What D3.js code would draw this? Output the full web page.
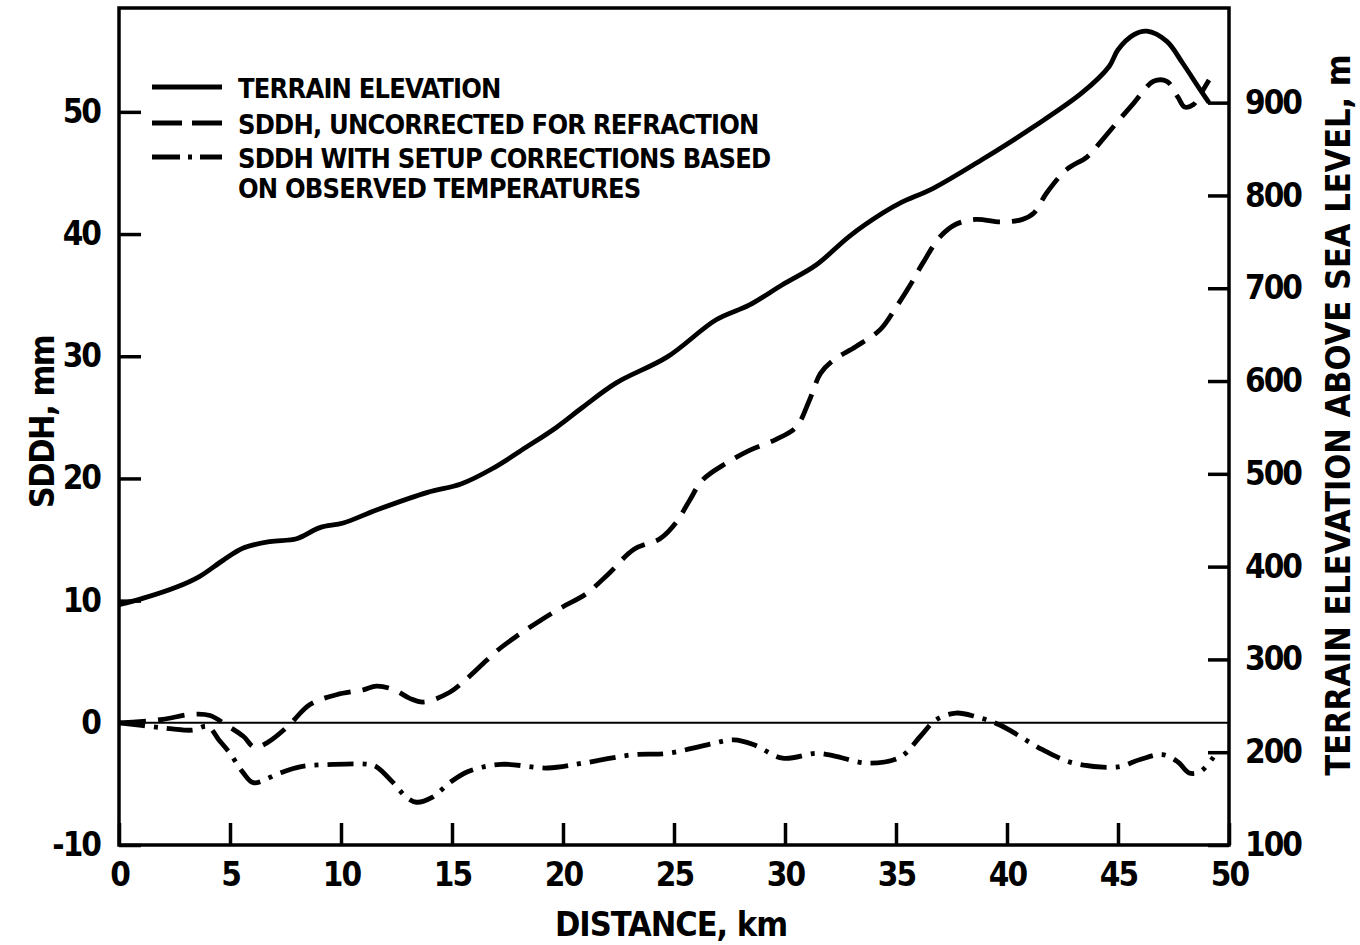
<!DOCTYPE html>
<html>
<head>
  <meta charset="utf-8">
  <script src="https://d3js.org/d3.v7.min.js"></script>
  <style>
    body { margin: 0; background: #fff; }
    .lbl {
      font-family: "Liberation Sans Narrow", "Arial Narrow", "DejaVu Sans Condensed", sans-serif;
      font-weight: bold;
      fill: #000;
    }
    .tick text {
      font-family: "Liberation Sans Narrow", "Arial Narrow", "DejaVu Sans Condensed", sans-serif;
      font-weight: bold; font-size: 33px; letter-spacing: -2px; fill: #000;
    }
    .tick line { stroke: #000; stroke-width: 3.5; }
    .domain { display: none; }
  </style>
</head>
<body>
<script>

// ---- data ----
// terrain elevation, m (right axis)
var terrainKm = [0, 1.1, 2.6, 3.6, 4.7, 5.6, 6.8, 8.0, 9.05, 10.1, 11.6, 13.9, 15.4, 16.85, 18.3, 19.7, 20.9, 22.4, 24.7, 26.9, 28.4, 29.9, 31.4, 32.9, 34.4, 35.2, 36.7, 38.9, 41.2, 43.4, 44.6, 45.0, 45.7, 46.3, 47.2, 47.9, 48.7, 49.1];
var terrainM = [359, 366, 378, 389, 407, 420, 427, 430, 442, 447, 461, 480, 489, 506, 528, 550, 572, 598, 626, 666, 682, 704, 725, 756, 781, 792, 808, 839, 874, 911, 939, 957, 973, 977, 966, 943, 914, 900];

// SDDH uncorrected for refraction, mm
var rawKm = [0, 1.85, 3.3, 4.1, 4.85, 5.6, 6.1, 6.7, 7.6, 8.6, 9.8, 11.0, 11.6, 12.4, 13.1, 13.7, 14.9, 15.6, 17.1, 18.0, 19.0, 20.0, 21.0, 22.0, 23.2, 24.4, 25.1, 25.7, 26.3, 27.4, 28.4, 29.6, 30.5, 31.1, 31.6, 32.2, 33.2, 34.3, 35.0, 35.6, 36.2, 37.0, 37.7, 38.6, 39.7, 40.7, 41.2, 41.8, 42.7, 43.6, 44.2, 44.8, 45.7, 46.6, 47.2, 47.7, 48.0, 48.4, 48.7, 49.1];
var rawMm = [0, 0.25, 0.7, 0.6, -0.2, -1.1, -2.0, -1.6, -0.3, 1.5, 2.3, 2.7, 3.0, 2.7, 2.0, 1.7, 2.5, 3.5, 6.0, 7.2, 8.4, 9.5, 10.5, 12.1, 14.2, 15.1, 16.4, 18.2, 19.9, 21.3, 22.3, 23.2, 24.2, 26.4, 28.6, 29.7, 30.8, 32.2, 34.0, 35.7, 37.6, 39.8, 40.8, 41.2, 41.0, 41.2, 41.7, 43.4, 45.3, 46.3, 47.5, 48.8, 50.7, 52.5, 52.5, 51.2, 50.4, 50.6, 51.4, 52.6];

// SDDH with setup corrections from observed temperatures, mm
var corrKm = [0, 1.9, 2.4, 3.3, 4.0, 4.5, 5.0, 5.6, 6.05, 7.25, 8.15, 9.65, 11.2, 11.6, 12.35, 12.95, 13.4, 14.1, 14.9, 15.7, 17.2, 19.3, 20.9, 23.2, 24.7, 26.5, 27.7, 28.6, 29.9, 31.4, 32.2, 33.7, 35.2, 36.1, 36.8, 37.7, 38.6, 39.7, 41.6, 43.0, 45.0, 46.0, 47.0, 47.7, 48.2, 48.7, 49.3];
var corrMm = [0, -0.4, -0.5, -0.6, -0.3, -1.4, -2.5, -4.1, -4.9, -4.1, -3.6, -3.4, -3.4, -3.6, -4.9, -6.1, -6.5, -6.1, -4.9, -4.0, -3.4, -3.7, -3.3, -2.6, -2.5, -1.8, -1.4, -1.8, -2.9, -2.5, -2.7, -3.3, -2.8, -1.1, 0.25, 0.8, 0.5, -0.2, -2.2, -3.3, -3.6, -3.0, -2.6, -3.2, -4.1, -4.0, -2.8];

var xTicks = [0, 5, 10, 15, 20, 25, 30, 35, 40, 45, 50];
var leftTicks = [-10, 0, 10, 20, 30, 40, 50];
var rightTicks = [100, 200, 300, 400, 500, 600, 700, 800, 900];

var legendLabels = [
  ["TERRAIN ELEVATION"],
  ["SDDH, UNCORRECTED FOR REFRACTION"],
  ["SDDH WITH SETUP CORRECTIONS BASED", "ON OBSERVED TEMPERATURES"]
];

// ---- layout ----  (note: "top" is reserved on window, so use plot* names)
var W = 1360, H = 945;
var plotLeft = 119, plotRight = 1229, plotTop = 8, plotBottom = 845;

var x = d3.scaleLinear().domain([0, 50]).range([plotLeft, plotRight]);
var yL = d3.scaleLinear().domain([-10, 58.5]).range([plotBottom, plotTop]);
var yR = d3.scaleLinear().domain([100, 1002]).range([plotBottom, plotTop]);

var svg = d3.select("body").append("svg")
  .attr("width", W)
  .attr("height", H);

svg.append("rect").attr("width", W).attr("height", H).attr("fill", "#fff");

// axes (ticks point inward)
svg.append("g")
  .attr("transform", "translate(0," + plotBottom + ")")
  .call(d3.axisBottom(x).tickValues(xTicks).tickSizeInner(-22).tickSizeOuter(0).tickPadding(18));

svg.append("g")
  .attr("transform", "translate(" + plotLeft + ",0)")
  .call(d3.axisLeft(yL).tickValues(leftTicks).tickSizeInner(-22).tickSizeOuter(0).tickPadding(19).tickFormat(d3.format("d")));

svg.append("g")
  .attr("transform", "translate(" + plotRight + ",0)")
  .call(d3.axisRight(yR).tickValues(rightTicks).tickSizeInner(-21).tickSizeOuter(0).tickPadding(16));

// minus sign as a plain hyphen like the original
svg.selectAll(".tick text").text(function() { return d3.select(this).text().replace("−", "-"); });

// frame
svg.append("rect")
  .attr("x", plotLeft).attr("y", plotTop)
  .attr("width", plotRight - plotLeft).attr("height", plotBottom - plotTop)
  .attr("fill", "none").attr("stroke", "#000").attr("stroke-width", 3.5);

// zero line
svg.append("line")
  .attr("x1", plotLeft).attr("x2", plotRight)
  .attr("y1", yL(0)).attr("y2", yL(0))
  .attr("stroke", "#000").attr("stroke-width", 2);

// curves
function drawCurve(xs, ys, yScale, dash) {
  var pts = xs.map(function(d, i) { return [d, ys[i]]; });
  var line = d3.line()
    .x(function(d) { return x(d[0]); })
    .y(function(d) { return yScale(d[1]); })
    .curve(d3.curveCatmullRom.alpha(0.5));
  svg.append("path")
    .datum(pts)
    .attr("d", line)
    .attr("fill", "none")
    .attr("stroke", "#000")
    .attr("stroke-width", 4.8)
    .attr("stroke-linejoin", "round")
    .attr("stroke-dasharray", dash);
}

drawCurve(terrainKm, terrainM, yR, null);
drawCurve(rawKm, rawMm, yL, "27,12");
drawCurve(corrKm, corrMm, yL, "26,9,4,9");

// legend
var legDash = [null, "30,10", "28,8,4,8"];
var legY = [87, 123, 157];
legendLabels.forEach(function(lines, i) {
  svg.append("line")
    .attr("x1", 152).attr("x2", 222)
    .attr("y1", legY[i]).attr("y2", legY[i])
    .attr("stroke", "#000").attr("stroke-width", 5)
    .attr("stroke-dasharray", legDash[i]);
  lines.forEach(function(t, j) {
    svg.append("text")
      .attr("class", "lbl")
      .attr("x", 238)
      .attr("y", legY[i] + 11 + j * 30)
      .style("font-size", "27px")
      .style("letter-spacing", "-0.8px")
      .text(t);
  });
});

// axis titles
svg.append("text")
  .attr("class", "lbl")
  .attr("x", (plotLeft + plotRight) / 2 - 3)
  .attr("y", 936)
  .attr("text-anchor", "middle")
  .style("font-size", "34px")
  .style("letter-spacing", "-1px")
  .text("DISTANCE, km");

svg.append("text")
  .attr("class", "lbl")
  .attr("transform", "translate(54,422) rotate(-90)")
  .attr("text-anchor", "middle")
  .style("font-size", "34px")
  .style("letter-spacing", "-1.5px")
  .text("SDDH, mm");

svg.append("text")
  .attr("class", "lbl")
  .attr("transform", "translate(1350,415) rotate(-90)")
  .attr("text-anchor", "middle")
  .style("font-size", "34px")
  .text("TERRAIN ELEVATION ABOVE SEA LEVEL, m");

</script>
</body>
</html>
